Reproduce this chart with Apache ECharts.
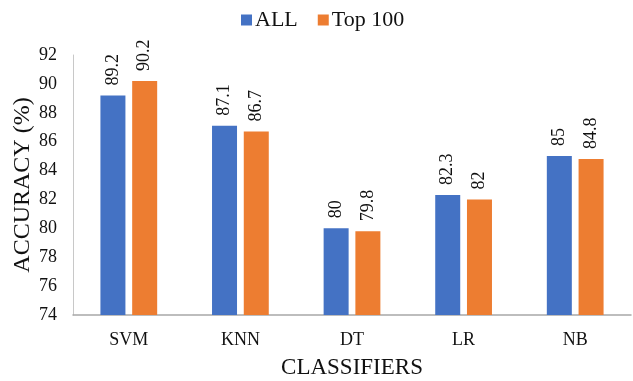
<!DOCTYPE html>
<html>
<head>
<meta charset="utf-8">
<script src="https://cdn.jsdelivr.net/npm/echarts@6/dist/echarts.min.js"></script>
<style>
  html, body { margin: 0; padding: 0; background: #ffffff; }
  #chart { width: 633px; height: 381px; }
</style>
</head>
<body>
<div id="chart"></div>
<script>
// Classifier accuracy, all features vs. top-100 features
const classifiers = ['SVM', 'KNN', 'DT', 'LR', 'NB'];
const accuracyAll = [89.2, 87.1, 80, 82.3, 85];
const accuracyTop100 = [90.2, 86.7, 79.8, 82, 84.8];
const seriesNames = ['ALL', 'Top 100'];

const serif = "'Liberation Serif', 'Times New Roman', serif";
const textColor = '#111111';

const chart = echarts.init(document.getElementById('chart'));

const barLabel = {
  show: true,
  position: 'top',
  distance: 10,
  rotate: 90,
  align: 'left',
  verticalAlign: 'middle',
  fontFamily: serif,
  fontSize: 18,
  color: textColor
};

chart.setOption({
  animation: false,
  backgroundColor: '#ffffff',
  textStyle: { fontFamily: serif },
  legend: {
    data: seriesNames,
    left: 236,
    top: 4,
    itemWidth: 11,
    itemHeight: 11,
    itemGap: 20,
    icon: 'rect',
    textStyle: { fontFamily: serif, fontSize: 22, color: textColor, padding: [0, 0, 0, -2] }
  },
  grid: { left: 73, right: 2, top: 55, bottom: 66, containLabel: false, outerBoundsMode: 'none' },
  xAxis: {
    type: 'category',
    data: classifiers,
    name: 'CLASSIFIERS',
    nameLocation: 'middle',
    nameGap: 41,
    nameMoveOverlap: false,
    nameTextStyle: { fontFamily: serif, fontSize: 23, color: textColor },
    axisLine: { lineStyle: { color: '#a8a8a8', width: 1.5 } },
    axisTick: { show: false },
    axisLabel: { fontFamily: serif, fontSize: 18, color: textColor, margin: 16 }
  },
  yAxis: {
    type: 'value',
    min: 74,
    max: 92,
    interval: 2,
    name: 'ACCURACY (%)',
    nameLocation: 'middle',
    nameGap: 38,
    nameMoveOverlap: false,
    nameTextStyle: { fontFamily: serif, fontSize: 24, color: textColor },
    axisLine: { show: true, lineStyle: { color: '#c8c8c8', width: 1 } },
    axisTick: { show: false },
    splitLine: { show: false },
    axisLabel: { fontFamily: serif, fontSize: 18, color: textColor, margin: 16 }
  },
  series: [
    {
      name: seriesNames[0],
      type: 'bar',
      data: accuracyAll,
      barWidth: 25,
      barGap: '27%',
      itemStyle: { color: '#4472C4' },
      label: barLabel
    },
    {
      name: seriesNames[1],
      type: 'bar',
      data: accuracyTop100,
      barWidth: 25,
      itemStyle: { color: '#ED7D31' },
      label: barLabel
    }
  ]
});
</script>
</body>
</html>
